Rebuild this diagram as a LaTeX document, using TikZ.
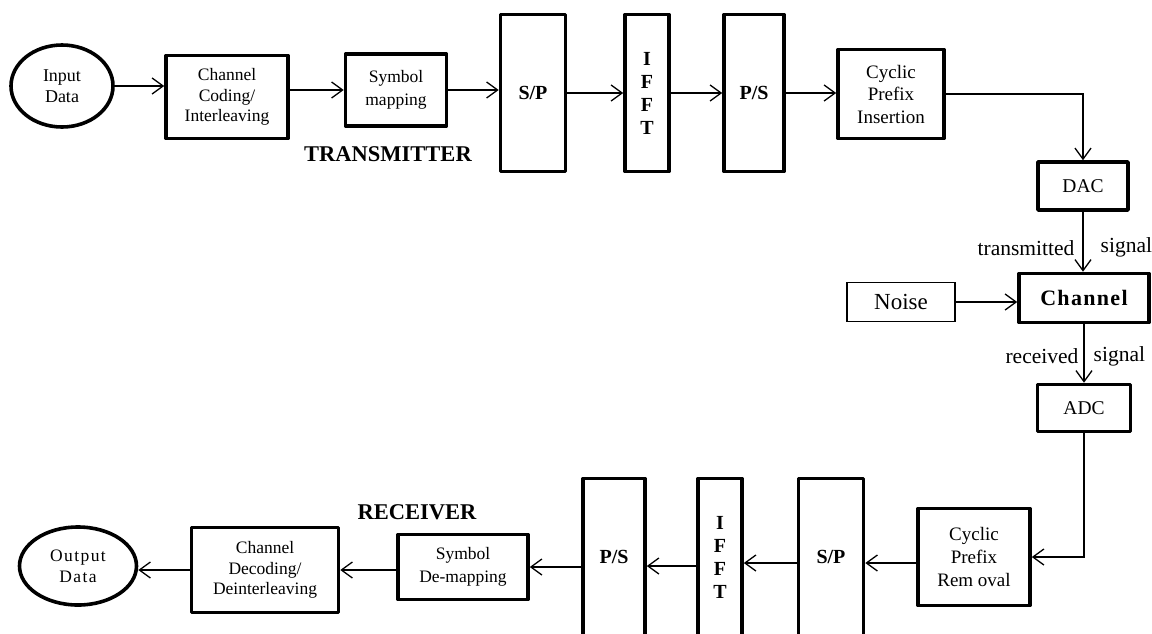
\documentclass[tikz,border=0pt]{standalone}
\usepackage{fontspec}
\setmainfont{Liberation Serif}
\usetikzlibrary{arrows.meta,shapes.geometric,calc}
\newcommand\setfs[2]{\fontsize{#1}{#2}\selectfont}
\begin{document}
\begin{tikzpicture}[x=1pt,y=-1pt,
  blk/.style={draw, rectangle, line width=3.6pt, line join=round, inner sep=0pt, align=center, font=\setfs{17.5}{20.5}},
  tallblk/.style={blk, minimum height=157pt, font=\bfseries\setfs{20}{23}},
  thinblk/.style={draw, rectangle, line width=1.3pt, inner sep=0pt, align=center, font=\setfs{23}{26}},
  oval/.style={draw, ellipse, line width=3.6pt, inner sep=0pt, align=center, font=\setfs{18}{21}},
  arr/.style={-{Straight Barb[length=11pt,width=16pt]}, line width=1.3pt},
  sig/.style={font=\setfs{21.5}{24}, inner sep=0pt},
  title/.style={font=\bfseries\setfs{22.5}{25}, inner sep=0pt}]
\clip (0,0) rectangle (1152,633);
\fill[white] (0,0) rectangle (1152,633);

% transmitter
\node[oval, minimum width=102pt, minimum height=82pt] (in) at (62,86) {Input\\Data};
\node[blk, minimum width=122pt, minimum height=83pt] (cc) at (227,97) {Channel\\Coding/\\Interleaving};
\node[blk, minimum width=101pt, minimum height=72pt, font=\setfs{17.5}{23}] (sm) at (396,90) {Symbol\\mapping};
\node[tallblk, minimum width=65pt] (sp1) at (533,93) {S/P};
\node[tallblk, minimum width=44pt] (ifft1) at (647,93) {I\\F\\F\\T};
\node[tallblk, minimum width=60pt] (ps1) at (754,93) {P/S};
\node[blk, minimum width=106pt, minimum height=89pt, font=\setfs{19}{22.5}] (cpi) at (891,94) {Cyclic\\Prefix\\Insertion};
\node[title] (tx) at (388,154) {TRANSMITTER};

% channel
\node[blk, minimum width=90pt, minimum height=48pt, font=\setfs{19.5}{21}] (dac) at (1083,186) {DAC};
\node[blk, minimum width=130pt, minimum height=49pt, font=\bfseries\setfs{22}{24}\addfontfeature{LetterSpace=6}] (ch) at (1084,298) {Channel};
\node[thinblk, minimum width=108pt, minimum height=39pt] (noise) at (901,302) {Noise};
\node[blk, minimum width=93pt, minimum height=47pt, font=\setfs{19.5}{21}] (adc) at (1084,408) {ADC};

% receiver
\node[blk, minimum width=112pt, minimum height=97pt, font=\setfs{19}{23}] (cpr) at (974,557) {Cyclic\\Prefix\\Rem oval};
\node[tallblk, minimum width=65pt] (sp2) at (831,557) {S/P};
\node[tallblk, minimum width=44pt] (ifft2) at (720,557) {I\\F\\F\\T};
\node[tallblk, minimum width=62pt] (ps2) at (614,557) {P/S};
\node[blk, minimum width=130pt, minimum height=65pt, font=\setfs{17.5}{23}] (sdm) at (463,567) {Symbol\\De-mapping};
\node[blk, minimum width=147pt, minimum height=85pt] (cd) at (265,570) {Channel\\Decoding/\\Deinterleaving};
\node[oval, minimum width=117pt, minimum height=78pt, font=\setfs{17.5}{21}\addfontfeature{LetterSpace=8}] (out) at (78,566) {Output\\Data};
\node[title] (rx) at (417,512) {RECEIVER};

% transmitter connectors
\draw[arr] (in.east) -- (in.east -| cc.west);
\draw[arr] (cc.east |- sm.west) -- (sm.west);
\draw[arr] (sm.east) -- (sm.east -| sp1.west);
\draw[arr] (sp1.east) -- (ifft1.west);
\draw[arr] (ifft1.east) -- (ps1.west);
\draw[arr] (ps1.east) -- (ps1.east -| cpi.west);
\draw[arr] (cpi.east) -| (dac.north);

% channel connectors
\draw[arr] (dac.south) -- (dac.south |- ch.north)
  node[sig, pos=0.6, anchor=east, xshift=-8pt] (txl) {transmitted}
  node[sig, pos=0.6, anchor=west, xshift=17pt] (txs) {signal};
\draw[arr] (noise.east) -- (noise.east -| ch.west);
\draw[arr] (ch.south) -- (ch.south |- adc.north)
  node[sig, pos=0.55, anchor=east, xshift=-5pt] (rxl) {received}
  node[sig, pos=0.55, anchor=west, xshift=9pt] (rxs) {signal};
\draw[arr] (adc.south) |- (cpr.east);

% receiver connectors
\draw[arr] ([yshift=-6pt]cpr.west) -- ([yshift=-6pt]cpr.west -| sp2.east);
\draw[arr] ([yshift=-6pt]sp2.west) -- ([yshift=-6pt]sp2.west -| ifft2.east);
\draw[arr] ([yshift=-9pt]ifft2.west) -- ([yshift=-9pt]ifft2.west -| ps2.east);
\draw[arr] (ps2.west |- sdm.east) -- (sdm.east);
\draw[arr] (sdm.west |- cd.east) -- (cd.east);
\draw[arr] (cd.west) -- (cd.west -| out.east);
\end{tikzpicture}
\end{document}
